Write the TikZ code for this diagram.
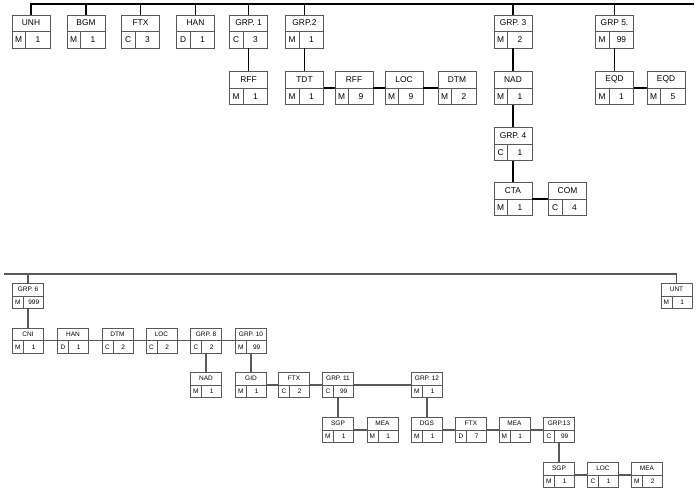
\documentclass[tikz,border=0pt]{standalone}
\usepackage{fontspec}
\setmainfont{Liberation Sans}
\usetikzlibrary{calc}

% one segment box: title on top, status and repeat below
\newcommand{\segbox}[6]{%
	\node[#1] (#2) at #3 {};
	\draw[#1 rule] (#2.west)--(#2.east);
	\draw[#1 rule] ($(#2.west)!0.36!(#2.east)$)--($(#2.south west)!0.36!(#2.south east)$);
	\node[#1 text] at ($(#2.north)!0.5!(#2.center)$) {#4};
	\node[#1 text] at ($($(#2.west)!0.18!(#2.east)$)!0.5!($(#2.south west)!0.18!(#2.south east)$)$) {#5};
	\node[#1 text] at ($($(#2.west)!0.68!(#2.east)$)!0.5!($(#2.south west)!0.68!(#2.south east)$)$) {#6};
}

\begin{document}
\begin{tikzpicture}[x=1pt,y=-1pt,
	hibox/.style={draw=black!65,line width=0.7pt,minimum width=38pt,minimum height=33pt,inner sep=0pt},
	hibox rule/.style={draw=black!65,line width=0.7pt},
	hibox text/.style={inner sep=0pt,font=\fontsize{8.4}{9}\selectfont},
	lobox/.style={draw=black!65,line width=0.7pt,minimum width=31pt,minimum height=25pt,inner sep=0pt},
	lobox rule/.style={draw=black!65,line width=0.7pt},
	lobox text/.style={inner sep=0pt,font=\fontsize{6.5}{7}\selectfont},
	hiwire/.style={black,line width=1.1pt},
	lowire/.style={black!65,line width=1.3pt}]
	\useasboundingbox (0,0) rectangle (696,492);
	% upper part
	\segbox{hibox}{unh}{(31,31.5)}{UNH}{M}{1}
	\segbox{hibox}{bgm}{(86,31.5)}{BGM}{M}{1}
	\segbox{hibox}{ftx}{(140.5,31.5)}{FTX}{C}{3}
	\segbox{hibox}{han}{(195.5,31.5)}{HAN}{D}{1}
	\segbox{hibox}{grp1}{(248.5,31.5)}{GRP. 1}{C}{3}
	\segbox{hibox}{grp2}{(304.5,31.5)}{GRP.2}{M}{1}
	\segbox{hibox}{grp3}{(513,31.5)}{GRP. 3}{M}{2}
	\segbox{hibox}{grp5}{(614.5,31.5)}{GRP 5.}{M}{99}
	\segbox{hibox}{rff}{(248.5,88)}{RFF}{M}{1}
	\segbox{hibox}{tdt}{(304.5,88)}{TDT}{M}{1}
	\segbox{hibox}{rffb}{(354,88)}{RFF}{M}{9}
	\segbox{hibox}{loc}{(404,88)}{LOC}{M}{9}
	\segbox{hibox}{dtm}{(457,88)}{DTM}{M}{2}
	\segbox{hibox}{nad}{(513,88)}{NAD}{M}{1}
	\segbox{hibox}{eqd}{(614.5,88)}{EQD}{M}{1}
	\segbox{hibox}{eqdb}{(666,88)}{EQD}{M}{5}
	\segbox{hibox}{grp4}{(513,144)}{GRP. 4}{C}{1}
	\segbox{hibox}{cta}{(513,199)}{CTA}{M}{1}
	\segbox{hibox}{com}{(567.5,199)}{COM}{C}{4}
	\coordinate (topbar) at (694,4);
	\draw[hiwire] (unh.north) |- (topbar);
	\foreach \n in {bgm,ftx,han,grp1,grp2,grp3,grp5}
		\draw[hiwire] (\n.north) -- (\n.north |- topbar);
	\foreach \a/\b in {grp1/rff,grp2/tdt,grp3/nad,nad/grp4,grp4/cta,grp5/eqd}
		\draw[hiwire] (\a.south) -- (\b.north);
	\foreach \a/\b in {tdt/rffb,rffb/loc,loc/dtm,eqd/eqdb,cta/com}
		\draw[hiwire] (\a.east) -- (\b.west);
	% lower part
	\segbox{lobox}{grp6}{(28,296)}{GRP. 6}{M}{999}
	\segbox{lobox}{unt}{(676.5,296)}{UNT}{M}{1}
	\segbox{lobox}{cni}{(28,340.5)}{CNI}{M}{1}
	\segbox{lobox}{hanl}{(73,340.5)}{HAN}{D}{1}
	\segbox{lobox}{dtml}{(117.5,340.5)}{DTM}{C}{2}
	\segbox{lobox}{locl}{(161.5,340.5)}{LOC}{C}{2}
	\segbox{lobox}{grp8}{(206,340.5)}{GRP. 8}{C}{2}
	\segbox{lobox}{grp10}{(251,340.5)}{GRP. 10}{M}{99}
	\segbox{lobox}{nadl}{(206,385)}{NAD}{M}{1}
	\segbox{lobox}{gid}{(251,385)}{GID}{M}{1}
	\segbox{lobox}{ftxl}{(294,385)}{FTX}{C}{2}
	\segbox{lobox}{grp11}{(338,385)}{GRP. 11}{C}{99}
	\segbox{lobox}{grp12}{(427,385)}{GRP. 12}{M}{1}
	\segbox{lobox}{sgp}{(338,430)}{SGP}{M}{1}
	\segbox{lobox}{mea}{(382.5,430)}{MEA}{M}{1}
	\segbox{lobox}{dgs}{(427,430)}{DGS}{M}{1}
	\segbox{lobox}{ftxm}{(471,430)}{FTX}{D}{7}
	\segbox{lobox}{meab}{(514.5,430)}{MEA}{M}{1}
	\segbox{lobox}{grp13}{(559,430)}{GRP.13}{C}{99}
	\segbox{lobox}{sgpb}{(559,475)}{SGP}{M}{1}
	\segbox{lobox}{locb}{(603,475)}{LOC}{C}{1}
	\segbox{lobox}{meac}{(647,475)}{MEA}{M}{2}
	\coordinate (lowbar) at (4,274);
	\draw[lowire] (lowbar) -| (unt.north);
	\draw[lowire] (grp6.north) -- (grp6.north |- lowbar);
	\foreach \a/\b in {grp6/cni,grp8/nadl,grp10/gid,grp11/sgp,grp12/dgs,grp13/sgpb}
		\draw[lowire] (\a.south) -- (\b.north);
	\foreach \a/\b in {cni/hanl,hanl/dtml,dtml/locl,locl/grp8,grp8/grp10,gid/ftxl,ftxl/grp11,grp11/grp12,sgp/mea,dgs/ftxm,ftxm/meab,meab/grp13,sgpb/locb,locb/meac}
		\draw[lowire] (\a.east) -- (\b.west);
\end{tikzpicture}
\end{document}
